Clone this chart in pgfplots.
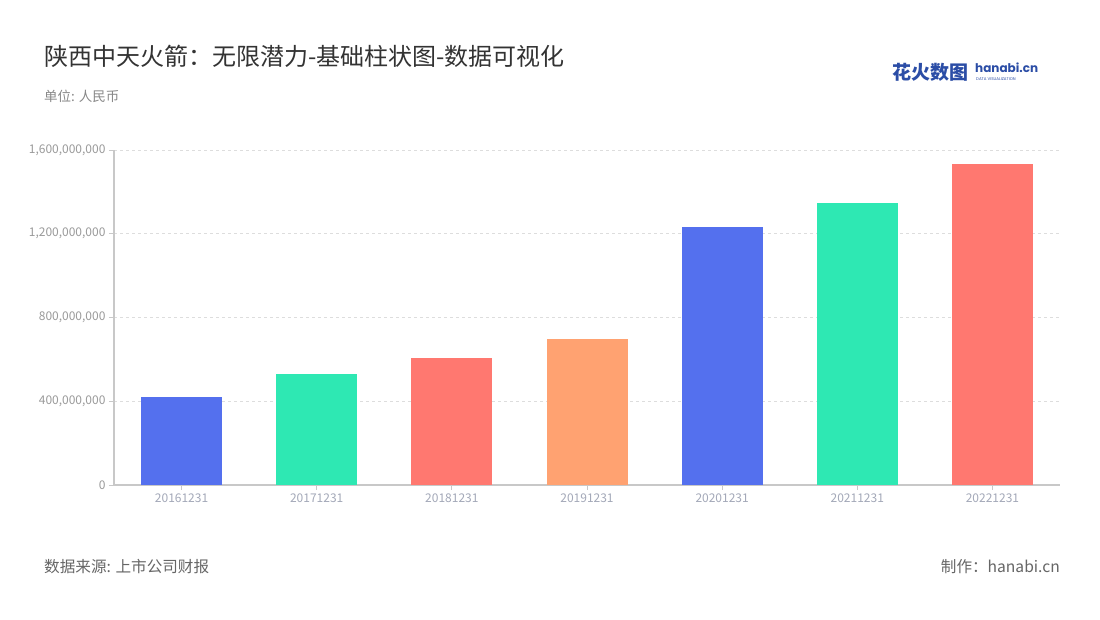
\documentclass[border=0pt]{standalone}
\usepackage{pgfplots}
\pgfplotsset{compat=1.18}
\usepackage{fontspec}
\setmainfont{Noto Sans CJK SC}
\newfontfamily\logofont{Poppins}
\definecolor{cblue}{HTML}{5470EE}
\definecolor{cgreen}{HTML}{2EE8B3}
\definecolor{cred}{HTML}{FF7870}
\definecolor{corange}{HTML}{FFA271}
\definecolor{gridc}{HTML}{DDDDDD}
\definecolor{axc}{HTML}{C8C8C8}
\definecolor{tickc}{HTML}{9A9A9A}
\definecolor{xtickc}{HTML}{A3A8B8}
\definecolor{titlec}{HTML}{333333}
\definecolor{subc}{HTML}{888888}
\definecolor{footc}{HTML}{666666}
\definecolor{logoc}{HTML}{2B4DA6}
\begin{document}
\begin{tikzpicture}[x=1pt,y=1pt]
\fill[white] (0,0) rectangle (1100,620);
\node[anchor=west,text=titlec,font=\fontsize{24}{27}\selectfont,inner sep=0] at (44,564) {陕西中天火箭：无限潜力-基础柱状图-数据可视化};
\node[anchor=west,text=subc,font=\fontsize{13.5}{15}\selectfont,inner sep=0] at (44,524) {单位: 人民币};
\node[anchor=west,text=logoc,font=\fontsize{19}{21}\selectfont\bfseries,inner sep=0] at (892,548) {花火数图};
\node[anchor=west,text=logoc,font=\logofont\fontsize{12}{14}\selectfont\bfseries,inner sep=0] at (975,552) {hanabi.cn};
\node[anchor=west,text=logoc,font=\logofont\fontsize{4}{5}\selectfont,inner sep=0] at (976,540.5) {DATA VISUALIZATION};
\begin{axis}[
  at={(114pt,135pt)}, anchor=south west,
  scale only axis, width=946pt, height=335pt,
  xmin=-0.5, xmax=6.5, ymin=0, ymax=1600000000,
  xtick={0,1,2,3,4,5,6},
  xticklabels={20161231,20171231,20181231,20191231,20201231,20211231,20221231},
  ytick={0,400000000,800000000,1200000000,1600000000},
  scaled y ticks=false,
  /pgf/number format/.cd, fixed, 1000 sep={,}, assume math mode=true, /pgfplots/.cd,
  yticklabel style={text=tickc,font=\fontsize{12}{14}\selectfont},
  xticklabel style={text=xtickc,font=\fontsize{12}{14}\selectfont},
  ymajorgrids, grid style={gridc,dashed,line width=0.8pt},
  axis x line*=bottom, axis y line*=left,
  axis line style={axc,line width=1.2pt,-},
  tick style={axc,line width=0.8pt},
  major tick length=5pt,
  tick align=outside,
  ybar, bar width=81pt, bar shift=0pt,
  clip=false,
]
\addplot[fill=cblue,draw=none] coordinates {(0,420000000)};
\addplot[fill=cgreen,draw=none] coordinates {(1,530000000)};
\addplot[fill=cred,draw=none] coordinates {(2,606000000)};
\addplot[fill=corange,draw=none] coordinates {(3,697000000)};
\addplot[fill=cblue,draw=none] coordinates {(4,1232000000)};
\addplot[fill=cgreen,draw=none] coordinates {(5,1347000000)};
\addplot[fill=cred,draw=none] coordinates {(6,1533000000)};
\end{axis}
\node[anchor=west,text=footc,font=\fontsize{15.6}{18}\selectfont,inner sep=0] at (44,53) {数据来源: 上市公司财报};
\node[anchor=east,text=footc,font=\fontsize{15.6}{18}\selectfont,inner sep=0] at (1060,53) {制作：hanabi.cn};
\end{tikzpicture}
\end{document}
